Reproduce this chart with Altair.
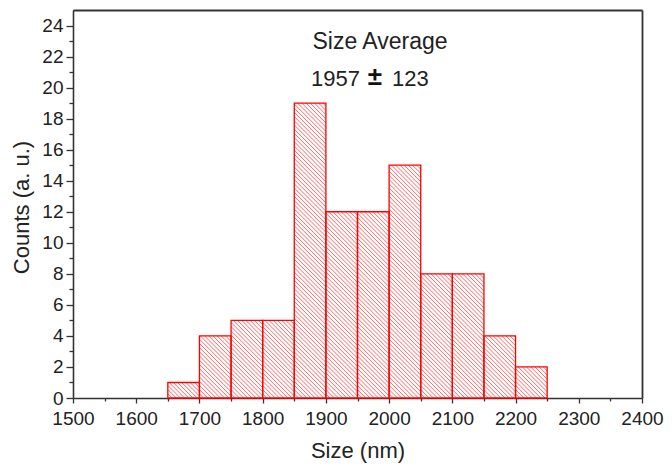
import altair as alt
import pandas as pd

# ---- data ----
bin_start = [1650, 1700, 1750, 1800, 1850, 1900, 1950, 2000, 2050, 2100, 2150, 2200]
bin_end = [1700, 1750, 1800, 1850, 1900, 1950, 2000, 2050, 2100, 2150, 2200, 2250]
counts = [1, 4, 5, 5, 19, 12, 12, 15, 8, 8, 4, 2]

x_ticks = [1500, 1600, 1700, 1800, 1900, 2000, 2100, 2200, 2300, 2400]
x_minor = [1550, 1650, 1750, 1850, 1950, 2050, 2150, 2250, 2350]
y_ticks = [0, 2, 4, 6, 8, 10, 12, 14, 16, 18, 20, 22, 24]
y_minor = [1, 3, 5, 7, 9, 11, 13, 15, 17, 19, 21, 23]

title_line = "Size Average"
mean_txt = "1957"
pm_txt = "±"
sd_txt = "123"

df = pd.DataFrame({"start": bin_start, "end": bin_end, "count": counts})

W, H = 569, 388
XD = [1500, 2400]
YD = [0, 25]
kx = W / (XD[1] - XD[0])
ky = H / (YD[1] - YD[0])
STEP = 4.2
RED = "#ff0000"
FONT = "Liberation Sans"
INK = "#222222"
AX = "#333333"

xs = alt.Scale(domain=XD, nice=False, zero=False)
ys = alt.Scale(domain=YD, nice=False)

main_x_axis = alt.Axis(values=x_ticks, format="d", tickSize=5, tickWidth=1.3,
                       tickColor=AX, domainColor=AX, domainWidth=1.6,
                       labelFontSize=19, labelFont=FONT, labelColor=INK, labelPadding=6,
                       labelFlush=False, labelOverlap=False,
                       title="Size (nm)", titleFont=FONT, titleFontSize=22,
                       titleFontWeight="normal", titleColor=INK,
                       titleX=W / 2, titleY=52, titleBaseline="middle",
                       grid=False, orient="bottom")
main_y_axis = alt.Axis(values=y_ticks, tickSize=7, tickWidth=1.3,
                       tickColor=AX, domainColor=AX, domainWidth=1.6,
                       labelFontSize=19, labelFont=FONT, labelColor=INK, labelPadding=3,
                       labelFlush=False, labelOverlap=False,
                       title="Counts (a. u.)", titleFont=FONT, titleFontSize=22,
                       titleFontWeight="normal", titleColor=INK,
                       titleX=-52, titleY=H / 2 + 3, titleBaseline="middle", titleAngle=-90,
                       grid=False, orient="left")
minor_x_axis = alt.Axis(values=x_minor, tickSize=3, tickWidth=1.3, tickColor=AX,
                        labels=False, domain=False, title=None, grid=False, orient="bottom")
minor_y_axis = alt.Axis(values=y_minor, tickSize=4, tickWidth=1.3, tickColor=AX,
                        labels=False, domain=False, title=None, grid=False, orient="left")
top_axis = alt.Axis(ticks=False, labels=False, domainColor=AX, domainWidth=1.8,
                    title=None, grid=False, orient="top")
right_axis = alt.Axis(ticks=False, labels=False, domainColor=AX, domainWidth=1.8,
                      title=None, grid=False, orient="right")

base = alt.Chart(df)

fill = base.mark_rect(fill="white", strokeWidth=0).encode(
    x=alt.X("start:Q", scale=xs, axis=main_x_axis),
    x2="end:Q",
    y=alt.Y("count:Q", scale=ys, axis=main_y_axis),
    y2=alt.datum(0),
)

hatch = base.transform_calculate(
    wpx=f"(datum.end - datum.start) * {kx}",
    hpx=f"datum.count * {ky}",
).transform_calculate(
    cs=f"sequence({STEP}, datum.wpx + datum.hpx, {STEP})"
).transform_flatten(["cs"]).transform_calculate(
    u0="max(0, datum.cs - datum.hpx)",
    u1="min(datum.wpx, datum.cs)",
).transform_calculate(
    hx=f"datum.start + datum.u0 / {kx}",
    hy=f"(datum.cs - datum.u0) / {ky}",
    hx2=f"datum.start + datum.u1 / {kx}",
    hy2=f"(datum.cs - datum.u1) / {ky}",
).mark_rule(stroke=RED, strokeWidth=1, opacity=0.6).encode(
    x=alt.X("hx:Q", scale=xs, axis=minor_x_axis),
    x2="hx2:Q",
    y=alt.Y("hy:Q", scale=ys, axis=minor_y_axis),
    y2="hy2:Q",
)

outline = base.mark_rect(fillOpacity=0, stroke=RED, strokeWidth=1.3).encode(
    x=alt.X("start:Q", scale=xs, axis=top_axis),
    x2="end:Q",
    y=alt.Y("count:Q", scale=ys, axis=right_axis),
    y2=alt.datum(0),
)

t1 = alt.Chart(pd.DataFrame({"t": [title_line]})).mark_text(
    font=FONT, fontSize=23, color=INK, align="center", baseline="middle"
).encode(text="t:N", x=alt.value(307), y=alt.value(32))
t2 = alt.Chart(pd.DataFrame({"t": [mean_txt]})).mark_text(
    font=FONT, fontSize=22, color=INK, align="right", baseline="middle"
).encode(text="t:N", x=alt.value(287), y=alt.value(69))
t3 = alt.Chart(pd.DataFrame({"t": [pm_txt]})).mark_text(
    font=FONT, fontSize=26, fontWeight="bold", color="#111", align="center", baseline="middle"
).encode(text="t:N", x=alt.value(302), y=alt.value(67))
t4 = alt.Chart(pd.DataFrame({"t": [sd_txt]})).mark_text(
    font=FONT, fontSize=22, color=INK, align="left", baseline="middle"
).encode(text="t:N", x=alt.value(319), y=alt.value(69))

chart = alt.layer(fill, hatch, outline, t1, t2, t3, t4).resolve_axis(
    x="independent", y="independent"
).properties(
    width=W, height=H,
    autosize=alt.AutoSizeParams(type="none"),
    padding={"left": 65, "top": 2, "right": 22, "bottom": 68},
).configure_view(stroke=None).configure(background="white")

chart.save("out.html", embed_options={"renderer": "svg", "actions": False})
